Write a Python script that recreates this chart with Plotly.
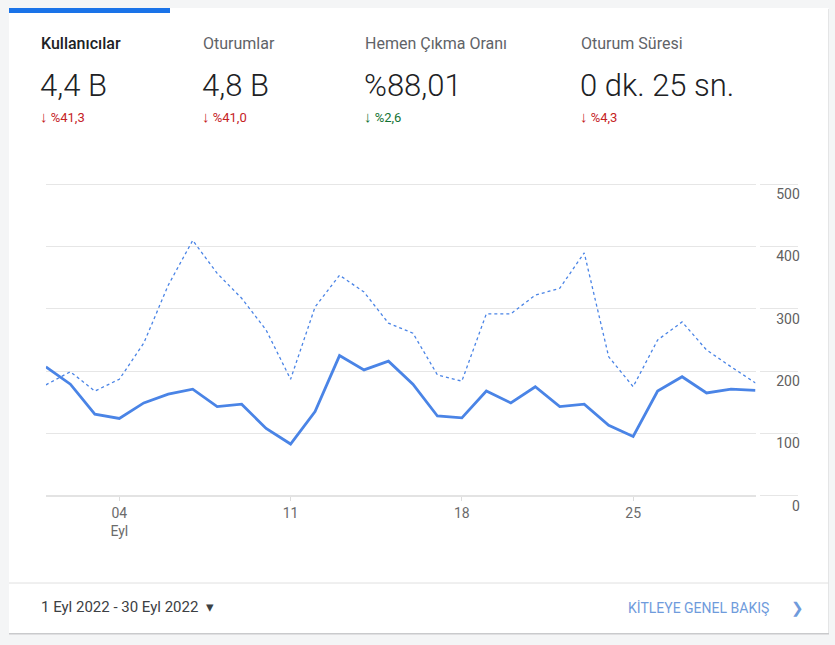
import plotly.graph_objects as go

W, H = 835, 645

# --- data ---
days = list(range(1, 31))
users_current = [207, 179, 131, 124, 149, 163, 171, 143, 147, 108,
                 83, 135, 225, 202, 216, 179, 128, 125, 168, 149,
                 175, 143, 147, 113, 95, 168, 191, 165, 171, 169]
users_previous = [178, 199, 168, 187, 245, 338, 410, 357, 317, 266,
                  187, 303, 354, 327, 277, 261, 194, 184, 292, 292,
                  322, 333, 390, 223, 175, 250, 279, 234, 207, 181]
x_tick_vals = [4, 11, 18, 25]
x_tick_text = ["04<br>Eyl", "11", "18", "25"]
y_tick_vals = [0, 100, 200, 300, 400, 500]

metric_names = ["Kullanıcılar", "Oturumlar", "Hemen Çıkma Oranı", "Oturum Süresi"]
metric_values = ["4,4 B", "4,8 B", "%88,01", "0 dk. 25 sn."]
metric_deltas = ["%41,3", "%41,0", "%2,6", "%4,3"]
metric_good = [False, False, True, False]

date_range = "1 Eyl 2022 - 30 Eyl 2022"
link_text = "KİTLEYE GENEL BAKIŞ"


def px(x):
    return x / W


def py(y):
    return 1 - y / H


BLUE = "#4a84e6"
GRID = "#e6e6e6"
FONT = "Roboto"

# y scale: 0 at 495.7px, 500 at 184.3px
Y_PER_UNIT = (495.7 - 184.3) / 500
Y_MIN, Y_MAX = -30, 520

fig = go.Figure()

fig.add_trace(go.Scatter(
    x=days, y=users_previous, mode="lines", name="Önceki dönem",
    line=dict(color=BLUE, width=1.3, dash="3px,3px"),
    hoverinfo="skip"))
fig.add_trace(go.Scatter(
    x=days, y=users_current, mode="lines", name="Kullanıcılar",
    line=dict(color=BLUE, width=2.8),
    hoverinfo="skip"))

# card, shadow, tab bar, divider
shapes = [
    dict(type="rect", xref="paper", yref="paper", x0=px(9), x1=px(829), y0=py(634.5), y1=py(9),
         fillcolor="#c9cacc", line=dict(width=0), layer="below"),
    dict(type="rect", xref="paper", yref="paper", x0=px(9), x1=px(828.5), y0=py(633), y1=py(8),
         fillcolor="white", line=dict(width=0), layer="below"),
    dict(type="rect", xref="paper", yref="paper", x0=px(9), x1=px(170), y0=py(13), y1=py(8),
         fillcolor="#1a73e8", line=dict(width=0), layer="below"),
    dict(type="line", xref="paper", yref="paper", x0=px(9), x1=px(828.5), y0=py(583), y1=py(583),
         line=dict(color="#e0e0e0", width=1), layer="below"),
]

annotations = []
col_x = [39, 201, 363, 579]
for i, name in enumerate(metric_names):
    first = i == 0
    annotations.append(dict(
        text=name, x=px(col_x[i]), y=py(44), xref="paper", yref="paper",
        xanchor="left", yanchor="middle", showarrow=False,
        font=dict(family=FONT, size=16, color="#202124" if first else "#5f6368",
                  weight=500 if first else 400)))
    annotations.append(dict(
        text=metric_values[i], x=px(col_x[i] - 1), y=py(86), xref="paper", yref="paper",
        xanchor="left", yanchor="middle", showarrow=False,
        font=dict(family=FONT, size=31, color="#202124", weight=300)))
    col = "#137333" if metric_good[i] else "#c5221f"
    annotations.append(dict(
        text='<span style="font-size:15px"><b>↓</b></span> ' + metric_deltas[i],
        x=px(col_x[i] - 1), y=py(117),
        xref="paper", yref="paper", xanchor="left", yanchor="middle", showarrow=False,
        font=dict(family=FONT, size=13, color=col)))

annotations.append(dict(
    text=date_range + "  ▾", x=px(39), y=py(607), xref="paper", yref="paper",
    xanchor="left", yanchor="middle", showarrow=False,
    font=dict(family=FONT, size=15, color="#3c4043")))
annotations.append(dict(
    text=link_text, x=px(771), y=py(608), xref="paper", yref="paper",
    xanchor="right", yanchor="middle", showarrow=False,
    font=dict(family=FONT, size=14, color="#6f9bdc")))
annotations.append(dict(
    text="❯", x=px(797), y=py(608), xref="paper", yref="paper",
    xanchor="center", yanchor="middle", showarrow=False,
    font=dict(family="DejaVu Sans", size=15, color="#6f9bdc")))

fig.update_layout(
    width=W, height=H,
    margin=dict(l=0, r=0, t=0, b=0),
    paper_bgcolor="#f4f5f6",
    plot_bgcolor="rgba(0,0,0,0)",
    showlegend=False,
    shapes=shapes,
    annotations=annotations,
    font=dict(family=FONT, color="#616161"),
    xaxis=dict(
        domain=[px(45.9), px(755.5)], range=[1, 30],
        anchor="free", position=py(495.7),
        tickvals=x_tick_vals, ticktext=x_tick_text,
        ticks="outside", ticklen=4, tickcolor="#dcdcdc",
        showgrid=False, zeroline=False, showline=False,
        tickfont=dict(family=FONT, size=14, color="#6b6b6b"),
        fixedrange=True),
    yaxis=dict(
        domain=[py(495.7 - Y_MIN * Y_PER_UNIT), py(495.7 - Y_MAX * Y_PER_UNIT)],
        range=[Y_MIN, Y_MAX],
        tickvals=y_tick_vals, side="right", anchor="free", position=px(798),
        ticks="inside", ticklen=38, tickcolor=GRID, tickwidth=1,
        ticklabelposition="inside", ticklabelshift=10, ticklabelstandoff=-40,
        showgrid=True, gridcolor=GRID, gridwidth=1,
        zeroline=True, zerolinecolor="#e3e3e3", zerolinewidth=2,
        showline=False,
        tickfont=dict(family=FONT, size=14, color="#616161"),
        fixedrange=True),
)

fig.write_html("out.html", config={"displayModeBar": False},
               post_script="document.body.style.margin='0';")
